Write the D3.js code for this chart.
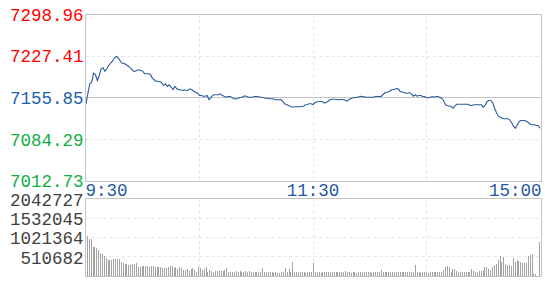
<!DOCTYPE html>
<html>
<head>
<meta charset="utf-8">
<script src="https://cdn.jsdelivr.net/npm/d3@7"></script>
<style>
  body { margin: 0; background: #fff; }
  svg text { font-family: "Liberation Mono", "DejaVu Sans Mono", monospace; font-size: 17.5px; }
</style>
</head>
<body>
<svg id="chart" width="545" height="300"></svg>
<script>
// previous close and the axis labels
const preClose = 7155.85;
const priceTicks = [7298.96, 7227.41, 7155.85, 7084.29, 7012.73];
const volumeTicks = [2042727, 1532045, 1021364, 510682];
const volumeMax = 2042727;
const timeLabels = ["9:30", "11:30", "15:00"];
const timeMinutes = [0, 120, 240]; // minutes from the open (lunch break skipped)

// one price per trading minute, 9:30-11:30 and 13:00-15:00
const prices = [
  7145.90, 7163.56, 7180.18, 7182.92, 7198.35, 7196.12, 7185.84, 7194.41, 7205.89, 7207.61,
  7201.78, 7205.89, 7211.55, 7215.49, 7218.92, 7224.75, 7226.98, 7224.40, 7220.12, 7215.49,
  7215.49, 7213.26, 7211.55, 7208.63, 7205.89, 7201.78, 7201.78, 7203.50, 7204.18, 7202.98,
  7201.78, 7197.32, 7197.32, 7197.32, 7196.12, 7190.47, 7187.04, 7184.64, 7184.64, 7183.60,
  7182.41, 7177.27, 7180.18, 7175.56, 7178.47, 7174.36, 7170.41, 7175.56, 7171.61, 7169.90,
  7169.90, 7168.70, 7169.90, 7168.70, 7169.30, 7171.61, 7169.90, 7167.50, 7165.79, 7164.07,
  7160.13, 7160.13, 7158.93, 7158.93, 7160.13, 7153.27, 7156.19, 7160.64, 7161.33, 7161.33,
  7161.33, 7163.04, 7160.64, 7158.93, 7157.22, 7158.42, 7158.42, 7157.22, 7154.47, 7154.47,
  7154.47, 7156.19, 7157.00, 7157.90, 7159.62, 7158.42, 7157.22, 7157.22, 7157.22, 7158.42,
  7158.42, 7158.42, 7157.22, 7157.22, 7156.19, 7155.50, 7155.50, 7154.47, 7154.47, 7154.47,
  7152.76, 7152.76, 7152.76, 7153.27, 7150.36, 7145.90, 7144.70, 7142.99, 7141.79, 7140.08,
  7140.77, 7140.77, 7140.77, 7140.77, 7141.28, 7141.79, 7144.19, 7144.70, 7145.90, 7145.90,
  7144.70, 7147.62, 7149.33, 7149.33, 7149.85, 7149.85, 7146.93, 7148.65, 7150.36, 7152.76,
  7153.79, 7153.79, 7153.79, 7152.76, 7152.76, 7153.27, 7153.27, 7152.07, 7150.36, 7153.27,
  7154.47, 7156.19, 7156.19, 7157.22, 7157.22, 7158.93, 7158.42, 7157.90, 7157.22, 7157.22,
  7157.22, 7157.22, 7157.22, 7158.42, 7158.42, 7158.42, 7158.42, 7161.84, 7164.76, 7165.60,
  7166.47, 7168.70, 7170.41, 7170.41, 7172.13, 7171.61, 7167.50, 7165.79, 7165.79, 7164.07,
  7164.07, 7165.27, 7163.04, 7158.93, 7161.33, 7158.93, 7160.13, 7160.13, 7158.42, 7158.42,
  7156.19, 7156.40, 7157.22, 7158.42, 7157.22, 7158.42, 7158.42, 7157.22, 7155.50, 7151.56,
  7144.19, 7142.99, 7141.79, 7141.79, 7138.36, 7141.79, 7145.22, 7145.22, 7145.22, 7145.22,
  7145.22, 7145.22, 7145.22, 7142.99, 7142.99, 7144.19, 7144.19, 7144.19, 7144.19, 7144.19,
  7140.08, 7142.99, 7149.85, 7151.56, 7151.56, 7147.62, 7138.36, 7130.48, 7124.65, 7122.94,
  7121.22, 7120.19, 7120.19, 7120.19, 7118.48, 7113.34, 7107.51, 7104.08, 7109.91, 7115.57,
  7117.28, 7117.28, 7117.28, 7115.57, 7113.34, 7110.43, 7109.91, 7109.91, 7108.71, 7108.71,
  7104.08
];

// volume per minute
const volumes = [
  1060700, 974200, 982100, 780400, 764700, 738500, 694000, 607600, 581400, 536900,
  492400, 432100, 432100, 432100, 458300, 450500, 458300, 458300, 371900, 345700,
  319500, 314300, 301200, 301200, 319500, 319500, 345700, 256700, 256700, 275000,
  275000, 275000, 275000, 256700, 275000, 275000, 256700, 256700, 240900, 256700,
  214800, 230500, 214800, 256700, 275000, 261900, 214800, 240900, 188600, 256700,
  214800, 170200, 170200, 188600, 151900, 188600, 214800, 170200, 125700, 240900,
  214800, 170200, 188600, 240900, 125700, 170200, 144000, 125700, 151900, 151900,
  151900, 151900, 151900, 170200, 214800, 125700, 125700, 125700, 125700, 151900,
  125700, 151900, 125700, 125700, 151900, 125700, 151900, 125700, 125700, 125700,
  125700, 130900, 125700, 217400, 130900, 130900, 112600, 112600, 112600, 96900,
  112600, 96900, 96900, 112600, 130900, 217400, 112600, 191200, 112600, 374500,
  130900, 130900, 130900, 112600, 112600, 112600, 96900, 112600, 112600, 104800,
  348300, 112600, 112600, 112600, 96900, 112600, 112600, 112600, 130900, 112600,
  130900, 112600, 112600, 112600, 130900, 112600, 112600, 149300, 112600, 130900,
  96900, 130900, 130900, 96900, 130900, 112600, 130900, 112600, 112600, 130900,
  112600, 96900, 112600, 112600, 130900, 130900, 165000, 130900, 112600, 130900,
  112600, 112600, 112600, 130900, 112600, 112600, 130900, 130900, 112600, 112600,
  130900, 112600, 112600, 130900, 288100, 130900, 112600, 96900, 112600, 112600,
  112600, 96900, 112600, 112600, 112600, 130900, 130900, 112600, 112600, 165000,
  235700, 269700, 235700, 112600, 201700, 201700, 149300, 130900, 130900, 130900,
  130900, 130900, 130900, 130900, 191200, 149300, 130900, 130900, 149300, 149300,
  183300, 254000, 254000, 201700, 183300, 235700, 306400, 314300, 426900, 542100,
  374500, 497600, 322100, 288100, 306400, 269700, 479300, 392800, 437400, 411200,
  374500, 348300, 348300, 358800, 523800, 550000, 594500, 60200, 52400, 0,
  916600
];

const svg = d3.select("#chart");

const left = 85.5, right = 541.5;
const priceTop = 14.5, priceBottom = 181.5;
const volTop = 198.5, volBottom = 276.5;

const gridColor = "#e3e3e3";
const borderColor = "#c4c4c4";

// scales
const x = d3.scaleLinear()
    .domain([0, 240])
    .range([86, 540]);

const xBar = d3.scalePoint()
    .domain(d3.range(volumes.length))
    .range([85, 541])
    .padding(1);

const y = d3.scaleLinear()
    .domain([priceTicks[4], priceTicks[0]])
    .range([priceBottom, priceTop]);

const yVol = d3.scaleLinear()
    .domain([0, volumeMax])
    .range([volBottom, volTop]);

const crisp = v => Math.round(v - 0.5) + 0.5; // put 1px lines on a pixel row

// vertical dashed grid (hourly)
const gridMinutes = [60, 120, 180];
[[priceTop, priceBottom], [volTop, volBottom]].forEach(([t, b]) => {
    svg.append("g")
        .selectAll("line")
        .data(gridMinutes)
        .join("line")
        .attr("x1", d => crisp(x(d)))
        .attr("x2", d => crisp(x(d)))
        .attr("y1", t)
        .attr("y2", b)
        .style("stroke", gridColor)
        .style("stroke-width", 1)
        .style("stroke-dasharray", "3,3");
});

// horizontal price grid (middle one solid)
svg.append("g")
    .selectAll("line")
    .data(priceTicks.slice(1, 4))
    .join("line")
    .attr("x1", left)
    .attr("x2", right)
    .attr("y1", d => crisp(y(d)))
    .attr("y2", d => crisp(y(d)))
    .style("stroke", d => d === preClose ? borderColor : gridColor)
    .style("stroke-width", 1)
    .style("stroke-dasharray", d => d === preClose ? null : "3,3");

// horizontal volume grid
svg.append("g")
    .selectAll("line")
    .data(volumeTicks.slice(1))
    .join("line")
    .attr("x1", left)
    .attr("x2", right)
    .attr("y1", d => crisp(yVol(d)))
    .attr("y2", d => crisp(yVol(d)))
    .style("stroke", gridColor)
    .style("stroke-width", 1)
    .style("stroke-dasharray", "3,3");

// volume bars
svg.append("g")
    .attr("shape-rendering", "crispEdges")
    .selectAll("rect")
    .data(volumes)
    .join("rect")
    .attr("x", (d, i) => Math.round(xBar(i)))
    .attr("y", d => Math.round(yVol(d)))
    .attr("width", 1)
    .attr("height", d => Math.max(0, Math.round(volBottom) - Math.round(yVol(d))))
    .style("fill", "#a3a3a3");

// price line
svg.append("path")
    .datum(prices)
    .attr("d", d3.line()
        .x((d, i) => x(i))
        .y(d => y(d)))
    .style("fill", "none")
    .style("stroke", "#2a5a9c")
    .style("stroke-width", 1.1);

// panel borders
[[priceTop, priceBottom], [volTop, volBottom]].forEach(([t, b]) => {
    svg.append("rect")
        .attr("x", left)
        .attr("y", t)
        .attr("width", right - left)
        .attr("height", b - t)
        .style("fill", "none")
        .style("stroke", borderColor)
        .style("stroke-width", 1);
});

// price labels (bottom one sits a bit higher so it clears the volume labels)
svg.append("g")
    .selectAll("text")
    .data(priceTicks)
    .join("text")
    .attr("x", 83.5)
    .attr("y", (d, i) => y(d) + (i === priceTicks.length - 1 ? 5 : 6))
    .attr("text-anchor", "end")
    .style("fill", d => d > preClose ? "#ff0000" : d < preClose ? "#0fae45" : "#1c5fae")
    .text(d => d.toFixed(2));

// volume labels
svg.append("g")
    .selectAll("text")
    .data(volumeTicks)
    .join("text")
    .attr("x", 83.5)
    .attr("y", (d, i) => yVol(d) + (i === 0 ? 7.5 : 6.5))
    .attr("text-anchor", "end")
    .style("fill", "#404040")
    .text(d => d);

// time labels
svg.append("g")
    .selectAll("text")
    .data(timeLabels)
    .join("text")
    .attr("x", (d, i) => i === 0 ? left : i === 2 ? right : x(timeMinutes[i]))
    .attr("y", 195.5)
    .attr("text-anchor", (d, i) => ["start", "middle", "end"][i])
    .style("fill", "#1f57a3")
    .text(d => d);
</script>
</body>
</html>
